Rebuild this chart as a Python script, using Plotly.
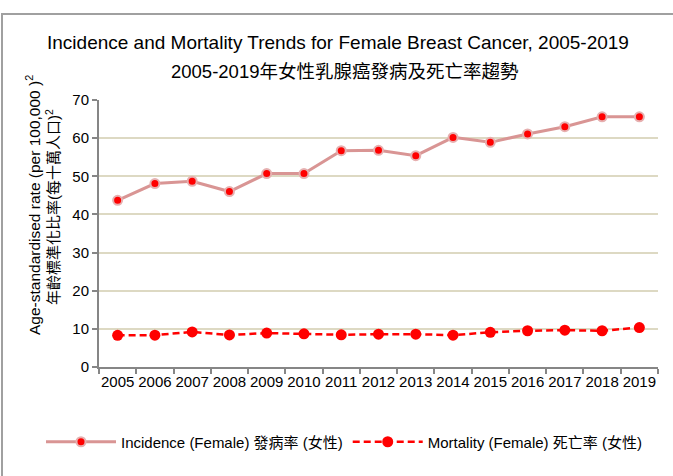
import plotly.graph_objects as go

years = [str(y) for y in range(2005, 2020)]
incidence = [43.7, 48.1, 48.7, 46.0, 50.7, 50.7, 56.7, 56.8, 55.4, 60.2, 58.9, 61.1, 63.0, 65.6, 65.6]
mortality = [8.3, 8.35, 9.2, 8.4, 8.9, 8.7, 8.45, 8.6, 8.6, 8.35, 9.1, 9.5, 9.65, 9.5, 10.35]

FONT = "Liberation Sans, Arial, Noto Sans CJK TC, sans-serif"

fig = go.Figure()
fig.add_trace(go.Scatter(
    x=years, y=incidence, mode="lines+markers",
    name="Incidence (Female) 發病率 (女性)",
    line=dict(color="#d99594", width=3),
    marker=dict(color="#ff0000", size=9, line=dict(color="#e6b0b0", width=2)),
))
fig.add_trace(go.Scatter(
    x=years, y=mortality, mode="lines+markers",
    name="Mortality (Female) 死亡率 (女性)",
    line=dict(color="#ff0000", width=2.5, dash="7px,4px"),
    marker=dict(color="#ff0000", size=11),
))

W, H = 673, 476
left, right, top, bottom = 99, 658, 100, 367  # plot area in pixels
L, R, T, B = left, W - right, top, H - bottom
pw, ph = W - L - R, H - T - B

def px(x):
    return (x - L) / pw

def py(y):
    return (H - B - y) / ph

fig.update_layout(
    width=W, height=H,
    margin=dict(l=L, r=R, t=T, b=B, autoexpand=False),
    paper_bgcolor="white", plot_bgcolor="white",
    font=dict(family=FONT, size=15, color="#000000"),
    showlegend=True,
    legend=dict(orientation="h", xref="paper", yref="paper",
                x=px(41), xanchor="left", y=py(442), yanchor="middle",
                font=dict(size=15, family=FONT), bgcolor="rgba(0,0,0,0)", itemwidth=70),
    xaxis=dict(type="category", range=[-0.5, len(years) - 0.5], showgrid=False, showline=True,
               linecolor="#868686", linewidth=2,
               ticks="outside", ticklen=5, tickcolor="#868686", tickwidth=2, tickson="boundaries",
               tickangle=0, automargin=False, tickfont=dict(size=15), fixedrange=True),
    yaxis=dict(range=[0, 70], dtick=10, showgrid=True, gridcolor="#ddd9c3", gridwidth=2,
               showline=True, linecolor="#868686", linewidth=2, zeroline=False, automargin=False,
               ticks="outside", ticklen=5, tickcolor="#868686", tickwidth=2,
               tickfont=dict(size=15), fixedrange=True),
    annotations=[
        dict(text="Incidence and Mortality Trends for Female Breast Cancer, 2005-2019",
             xref="paper", yref="paper", x=px(338), y=py(43), xanchor="center", yanchor="middle",
             showarrow=False, font=dict(size=19)),
        dict(text="2005-2019年女性乳腺癌發病及死亡率趨勢",
             xref="paper", yref="paper", x=px(345), y=py(72), xanchor="center", yanchor="middle",
             showarrow=False, font=dict(size=18.5)),
        dict(text="Age-standardised rate (per 100,000 )<sup>2</sup>",
             xref="paper", yref="paper", x=px(33), y=py(205), xanchor="center", yanchor="middle",
             textangle=-90, showarrow=False, font=dict(size=15.5)),
        dict(text="年齡標準化比率(每十萬人口)<sup>2</sup>",
             xref="paper", yref="paper", x=px(52), y=py(207), xanchor="center", yanchor="middle",
             textangle=-90, showarrow=False, font=dict(size=15)),
    ],
    shapes=[
        dict(type="rect", xref="paper", yref="paper", x0=px(2), x1=px(700), y0=py(500), y1=py(14),
             line=dict(color="#a0a0a0", width=2), fillcolor="rgba(0,0,0,0)", layer="below"),
    ],
)

fig.write_html("out.html", config={"displayModeBar": False},
               post_script="document.body.style.margin='0px';")
